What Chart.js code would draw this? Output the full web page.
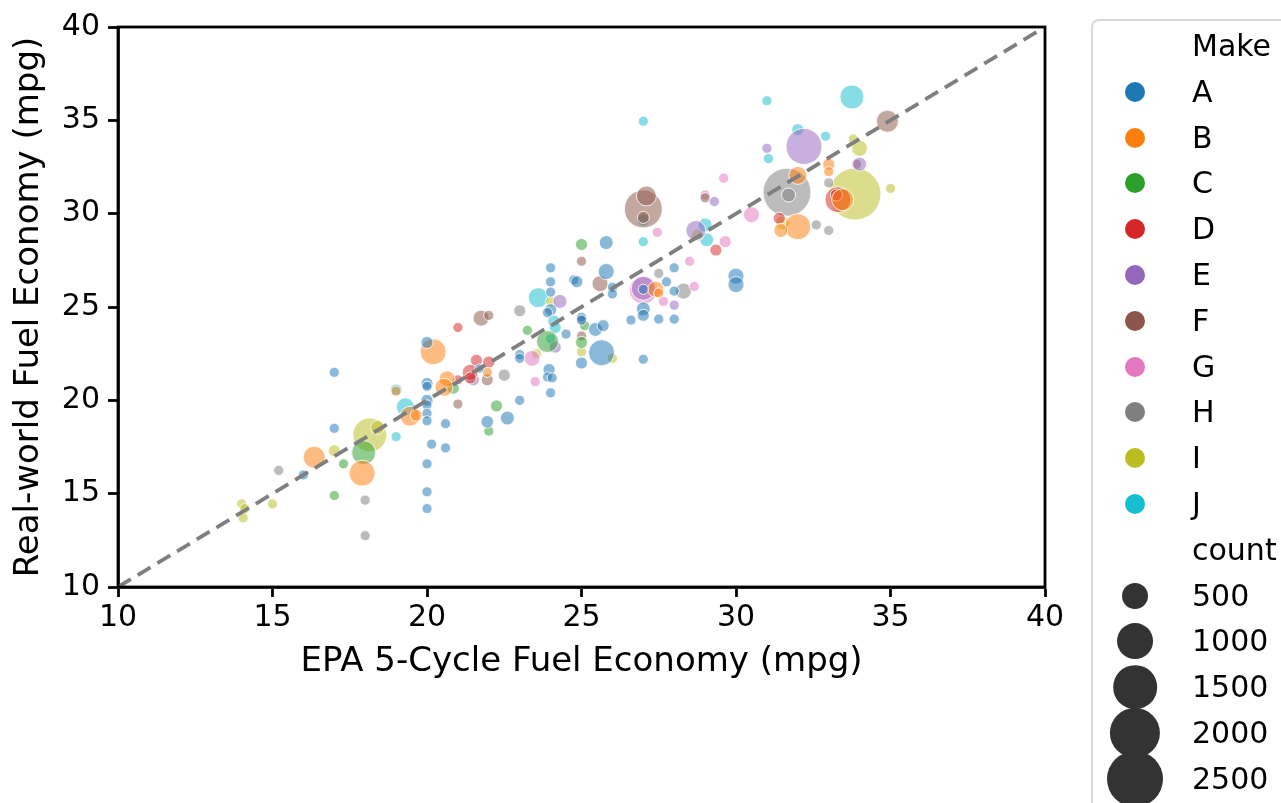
<!DOCTYPE html>
<html>
<head>
<meta charset="utf-8">
<script src="https://cdn.jsdelivr.net/npm/chart.js@4.4.0/dist/chart.umd.min.js"></script>
<style>
  html, body { margin: 0; padding: 0; background: #fff; overflow: hidden; }
  #wrap { position: relative; width: 1281px; height: 803px; }
  #legend {
    position: absolute; left: 1091px; top: 19px; width: 260px; height: 900px;
    border: 2px solid #d9d9d9; border-radius: 8px; box-sizing: border-box;
    font-family: 'DejaVu Sans', sans-serif; font-size: 30px; color: #000;
  }
  .row { position: absolute; left: 0; height: 0; }
  .row .mk { position: absolute; border-radius: 50%; transform: translate(-50%, -50%); }
  .row .lbl { position: absolute; left: 99px; transform: translateY(-50%); white-space: nowrap; line-height: 1; }
</style>
</head>
<body>
<div id="wrap">
  <canvas id="chart" width="1281" height="803"></canvas>
  <div id="legend"></div>
</div>
<script>
/* ── Data ── */
const makes = ['A', 'B', 'C', 'D', 'E', 'F', 'G', 'H', 'I', 'J'];
const makeColors = ['#1f77b4', '#ff7f0e', '#2ca02c', '#d62728', '#9467bd',
                    '#8c564b', '#e377c2', '#7f7f7f', '#bcbd22', '#17becf'];
const axisTicks = [10, 15, 20, 25, 30, 35, 40];
const sizeLegendCounts = [500, 1000, 1500, 2000, 2500];

const epaA = [17.0, 17.0, 16.0, 20.0, 20.0, 20.0, 20.0, 20.0, 20.0, 20.0, 20.6, 20.15, 20.6, 20.0, 20.0, 20.0, 21.7, 21.95, 22.6, 23.0, 23.0, 23.0, 23.95, 23.9, 24.05, 24.0, 24.0, 24.0, 24.0, 24.0, 23.9, 24.5, 24.75, 24.85, 25.8, 25.8, 26.0, 26.0, 25.0, 25.0, 25.45, 25.7, 25.0, 25.65, 27.0, 27.0, 27.0, 27.0, 26.6, 27.5, 28.0, 27.75, 28.0, 28.0, 30.0, 30.0];
const realA = [21.5, 18.5, 16.0, 23.1, 20.9, 20.75, 20.0, 19.75, 19.3, 18.9, 18.75, 17.65, 17.45, 16.6, 15.1, 14.2, 21.7, 18.85, 19.05, 22.45, 22.25, 20.0, 21.65, 21.25, 21.2, 20.4, 27.1, 26.35, 25.8, 24.85, 24.7, 23.55, 26.45, 26.35, 28.45, 26.9, 26.05, 25.7, 24.45, 24.3, 23.8, 24.0, 22.0, 22.55, 22.2, 25.95, 24.9, 24.55, 24.3, 24.35, 24.35, 26.35, 27.1, 25.85, 26.65, 26.2];
const countA = [35, 35, 35, 70, 70, 35, 70, 35, 35, 35, 35, 35, 35, 35, 35, 35, 20, 80, 110, 35, 35, 35, 70, 35, 35, 35, 35, 35, 35, 70, 35, 35, 35, 70, 110, 160, 35, 35, 35, 35, 110, 70, 70, 500, 35, 35, 110, 70, 35, 35, 35, 35, 35, 35, 160, 160];

const epaB = [16.35, 17.9, 19.45, 19.65, 20.2, 20.65, 20.55, 21.95, 19.0, 27.4, 27.5, 32.0, 33.0, 33.0, 33.45, 32.0, 31.45];
const realB = [16.95, 16.1, 19.15, 19.2, 22.6, 21.15, 20.7, 21.5, 20.5, 25.95, 25.75, 32.05, 32.65, 32.25, 30.75, 29.3, 29.1];
const countB = [345, 500, 275, 70, 500, 160, 215, 35, 35, 160, 35, 215, 70, 35, 345, 500, 110];

const epaC = [17.0, 17.3, 17.95, 20.85, 22.25, 22.0, 23.25, 23.9, 25.0, 25.1, 25.0];
const realC = [14.9, 16.6, 17.2, 20.65, 19.7, 18.35, 23.75, 23.15, 28.35, 24.0, 23.1];
const countC = [35, 35, 420, 70, 70, 35, 35, 345, 70, 35, 70];

const epaD = [21.0, 21.6, 22.0, 21.4, 21.4, 21.0, 29.35, 33.3, 33.25, 31.4];
const realD = [23.9, 22.15, 22.05, 21.5, 21.2, 21.1, 28.05, 30.75, 31.0, 29.75];
const countD = [35, 70, 70, 160, 70, 35, 70, 500, 70, 70];

const epaE = [21.5, 24.3, 24.15, 25.0, 27.0, 28.0, 28.7, 29.3, 31.0, 32.2, 34.0];
const realE = [21.1, 25.3, 22.85, 24.3, 26.0, 25.1, 29.1, 30.65, 33.5, 33.6, 32.65];
const countE = [70, 110, 70, 35, 420, 35, 275, 35, 35, 1005, 110];

const epaF = [21.0, 21.75, 22.0, 21.95, 25.0, 25.6, 25.0, 27.0, 27.1, 27.0, 29.0, 34.9, 33.9];
const realF = [19.8, 24.4, 24.55, 21.1, 27.45, 26.25, 23.45, 30.25, 30.95, 29.8, 30.85, 34.95, 32.65];
const countF = [35, 160, 35, 70, 35, 160, 35, 1125, 275, 70, 35, 345, 35];

const epaG = [23.4, 23.5, 27.0, 27.45, 28.5, 28.65, 27.65, 29.0, 29.6, 30.5, 29.65];
const realG = [22.25, 21.0, 25.9, 29.0, 27.45, 26.1, 25.3, 31.0, 31.9, 29.95, 28.5];
const countG = [160, 35, 590, 35, 35, 35, 35, 35, 35, 160, 70];

const epaH = [15.2, 18.0, 18.0, 22.5, 23.0, 27.5, 28.3, 31.65, 31.7, 33.0, 32.6, 33.0];
const realH = [16.25, 14.65, 12.75, 21.35, 24.8, 26.8, 25.85, 31.15, 31.0, 31.65, 29.4, 29.1];
const countH = [35, 35, 35, 70, 70, 35, 160, 1825, 110, 35, 35, 35];

const epaI = [14.0, 14.1, 14.05, 15.0, 17.0, 18.15, 18.4, 24.0, 23.55, 25.0, 26.0, 28.75, 31.5, 33.85, 35.0, 33.8, 34.0];
const realI = [14.45, 14.2, 13.7, 14.45, 17.3, 18.15, 18.55, 25.3, 22.5, 22.6, 22.25, 28.85, 29.5, 31.05, 31.35, 34.0, 33.5];
const countI = [35, 35, 35, 35, 70, 890, 110, 35, 35, 35, 35, 70, 110, 2150, 35, 35, 160];

const epaJ = [19.0, 19.3, 19.0, 23.6, 24.1, 24.15, 24.0, 27.0, 27.0, 27.0, 29.0, 29.05, 31.0, 31.05, 33.75, 32.0, 32.9];
const realJ = [18.05, 19.65, 20.55, 25.5, 24.25, 23.9, 23.3, 28.5, 29.65, 34.95, 29.4, 28.6, 36.05, 32.95, 36.25, 34.5, 34.15];
const countJ = [35, 215, 70, 275, 70, 70, 35, 35, 70, 35, 110, 110, 35, 35, 420, 70, 35];

const epaByMake = [epaA, epaB, epaC, epaD, epaE, epaF, epaG, epaH, epaI, epaJ];
const realByMake = [realA, realB, realC, realD, realE, realF, realG, realH, realI, realJ];
const countByMake = [countA, countB, countC, countD, countE, countF, countG, countH, countI, countJ];

/* ── Helpers ── */
const FONT = "'DejaVu Sans', sans-serif";

// bubble radius (px) from count: area grows linearly with count
function bubbleRadius(count) {
    return Math.sqrt(15 + 0.3075 * count);
}

function withAlpha(hex, a) {
    const n = parseInt(hex.slice(1), 16);
    return `rgba(${(n >> 16) & 255}, ${(n >> 8) & 255}, ${n & 255}, ${a})`;
}

/* ── Frame plugin: full box around plot area ── */
const framePlugin = {
    id: 'frame',
    afterDraw(chart) {
        const { ctx, chartArea: a } = chart;
        ctx.save();
        ctx.strokeStyle = '#000';
        ctx.lineWidth = 2.8;
        ctx.strokeRect(a.left, a.top, a.right - a.left, a.bottom - a.top);
        ctx.restore();
    }
};

/* ── Chart ── */
function initChart() {
    const bubbleSets = makes.map((make, m) => ({
        type: 'bubble',
        label: make,
        order: 1,
        data: epaByMake[m].map((x, i) => ({
            x: x,
            y: realByMake[m][i],
            r: bubbleRadius(countByMake[m][i])
        })),
        backgroundColor: withAlpha(makeColors[m], 0.52),
        borderColor: 'rgba(255,255,255,0.85)',
        borderWidth: 1,
        hoverRadius: 0,
    }));

    const diagonal = {
        type: 'line',
        label: 'y = x',
        order: 0,
        data: [{ x: axisTicks[0], y: axisTicks[0] },
               { x: axisTicks[axisTicks.length - 1], y: axisTicks[axisTicks.length - 1] }],
        borderColor: '#7f7f7f',
        borderWidth: 3.8,
        borderDash: [15, 8],
        pointRadius: 0,
        fill: false,
    };

    const tickFont = { family: FONT, size: 30 };
    const titleFont = { family: FONT, size: 34 };

    new Chart(document.getElementById('chart'), {
        type: 'bubble',
        data: { datasets: bubbleSets.concat([diagonal]) },
        plugins: [framePlugin],
        options: {
            responsive: false,
            animation: false,
            events: [],
            layout: { padding: { left: 5, right: 236, top: 27, bottom: 116 } },
            plugins: {
                legend: { display: false },
                tooltip: { enabled: false }
            },
            scales: {
                x: {
                    type: 'linear',
                    min: 10, max: 40,
                    afterBuildTicks: s => { s.ticks = axisTicks.map(v => ({ value: v })); },
                    afterFit: s => { s.height = 100; },
                    grid: {
                        drawOnChartArea: false,
                        drawTicks: true,
                        tickLength: 10,
                        tickWidth: 2.8,
                        tickColor: '#000'
                    },
                    border: { display: true, color: '#000', width: 2.8 },
                    ticks: { color: '#000', font: tickFont, padding: 3, maxRotation: 0 },
                    title: {
                        display: true,
                        text: 'EPA 5-Cycle Fuel Economy (mpg)',
                        color: '#000',
                        font: titleFont
                    }
                },
                y: {
                    type: 'linear',
                    min: 10, max: 40,
                    afterBuildTicks: s => { s.ticks = axisTicks.map(v => ({ value: v })); },
                    afterFit: s => { s.width = 113; },
                    grid: {
                        drawOnChartArea: false,
                        drawTicks: true,
                        tickLength: 10,
                        tickWidth: 2.8,
                        tickColor: '#000'
                    },
                    border: { display: true, color: '#000', width: 2.8 },
                    ticks: { color: '#000', font: tickFont, padding: 8 },
                    title: {
                        display: true,
                        text: 'Real-world Fuel Economy (mpg)',
                        color: '#000',
                        font: titleFont
                    }
                }
            }
        }
    });
}

/* ── Legend (HTML, right side) ── */
function buildLegend() {
    const box = document.getElementById('legend');
    const rowY0 = 25;      // centre of first row, relative to box
    const rowStep = 45.8;
    const markX = 42;
    let html = '';
    let row = 0;

    const addRow = (markerHtml, label) => {
        const y = rowY0 + row * rowStep;
        html += `<div class="row" style="top:${y}px">${markerHtml}<span class="lbl">${label}</span></div>`;
        row++;
    };

    addRow('', 'Make');
    makes.forEach((make, i) => {
        addRow(`<span class="mk" style="left:${markX}px;width:20px;height:20px;background:${makeColors[i]}"></span>`, make);
    });
    addRow('', 'count');
    sizeLegendCounts.forEach(c => {
        const d = 2 * bubbleRadius(c);
        addRow(`<span class="mk" style="left:${markX}px;width:${d}px;height:${d}px;background:#333"></span>`, c);
    });

    box.innerHTML = html;
}

document.addEventListener('DOMContentLoaded', () => {
    initChart();
    buildLegend();
});
</script>
</body>
</html>
